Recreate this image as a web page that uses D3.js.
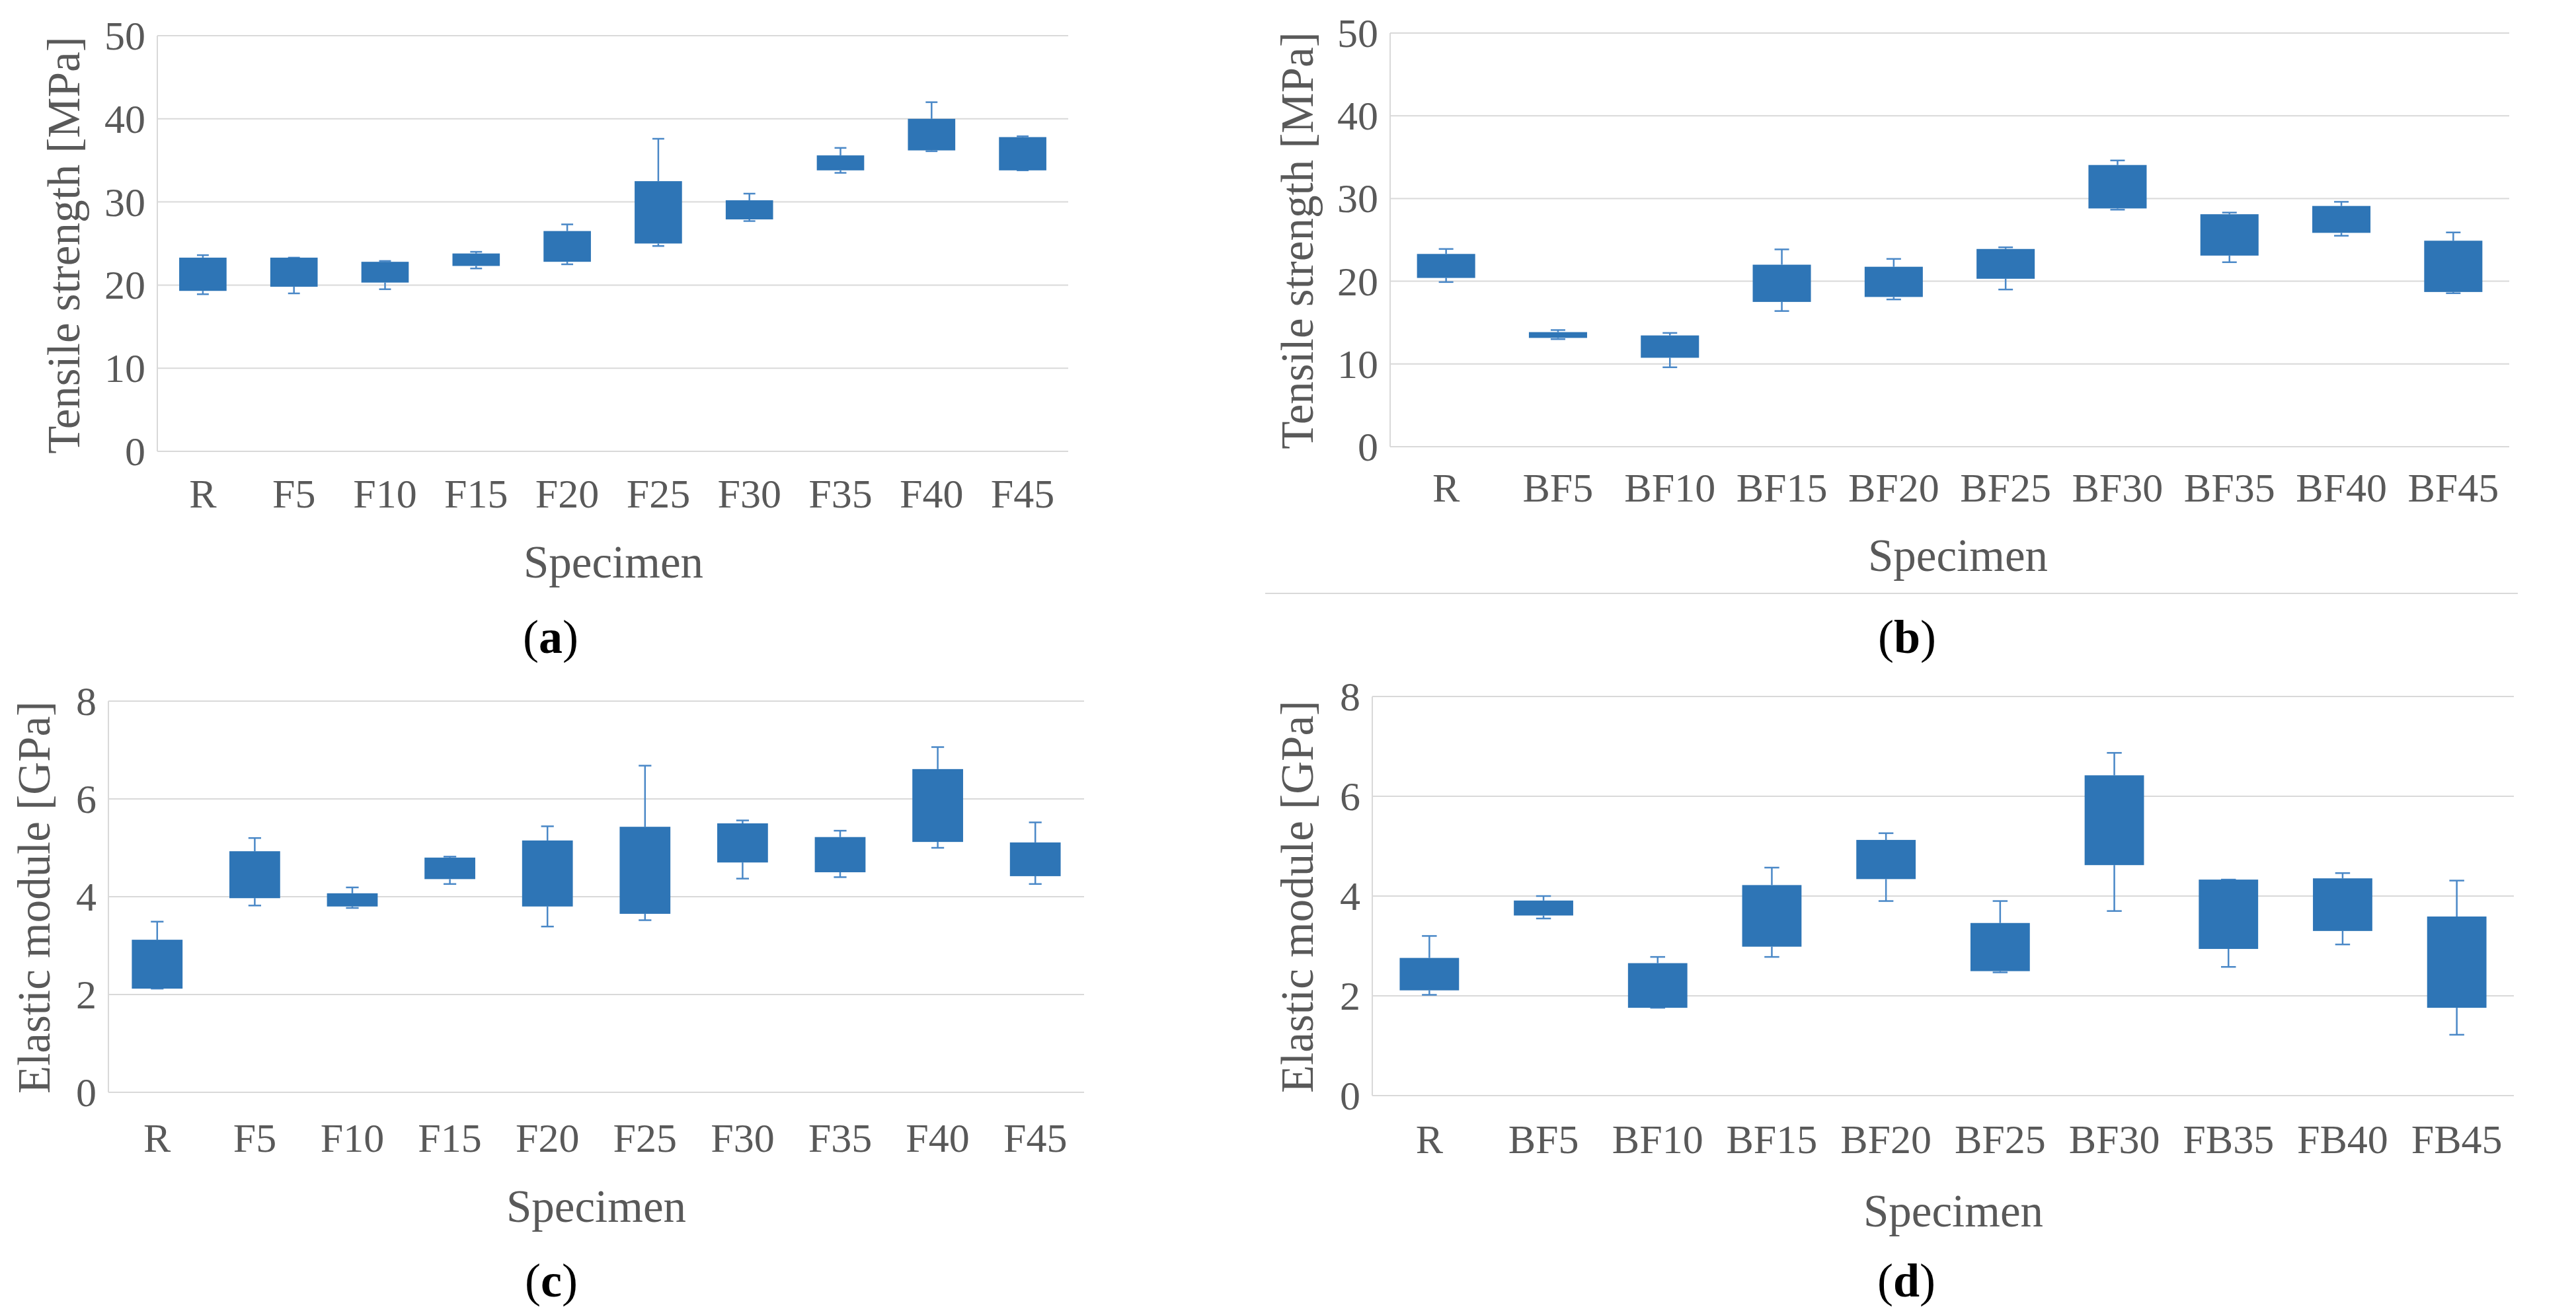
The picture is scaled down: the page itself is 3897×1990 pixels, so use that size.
<!DOCTYPE html>
<html>
<head>
<meta charset="utf-8">
<title>Box plots</title>
<script src="https://d3js.org/d3.v7.min.js"></script>
<style>
  body { margin: 0; background: #fff; }
  text { font-family: "Liberation Serif", serif; fill: #595959; }
</style>
</head>
<body>
<svg id="fig" width="3897" height="1990"></svg>
<script>
// categories
const catsF  = ["R", "F5", "F10", "F15", "F20", "F25", "F30", "F35", "F40", "F45"];
const catsBF = ["R", "BF5", "BF10", "BF15", "BF20", "BF25", "BF30", "BF35", "BF40", "BF45"];
const catsBFd = ["R", "BF5", "BF10", "BF15", "BF20", "BF25", "BF30", "FB35", "FB40", "FB45"];

// (a) tensile strength, F series [MPa]
const tsF_min = [18.9, 19.0, 19.5, 22.0, 22.5, 24.7, 27.7, 33.5, 36.1, 33.8];
const tsF_q1  = [19.3, 19.8, 20.3, 22.3, 22.8, 25.0, 27.9, 33.8, 36.2, 33.8];
const tsF_q3  = [23.3, 23.3, 22.8, 23.8, 26.5, 32.5, 30.2, 35.6, 40.0, 37.8];
const tsF_max = [23.6, 23.3, 22.9, 24.0, 27.3, 37.6, 31.0, 36.5, 42.0, 37.9];

// (b) tensile strength, BF series [MPa]
const tsBF_min = [19.9, 13.0, 9.6, 16.4, 17.8, 19.0, 28.65, 22.3, 25.5, 18.55];
const tsBF_q1  = [20.4, 13.15, 10.75, 17.5, 18.1, 20.3, 28.8, 23.1, 25.85, 18.7];
const tsBF_q3  = [23.3, 13.85, 13.45, 22.0, 21.75, 23.9, 34.05, 28.1, 29.1, 24.9];
const tsBF_max = [23.9, 14.1, 13.75, 23.85, 22.7, 24.1, 34.6, 28.3, 29.6, 25.9];

// (c) elastic module, F series [GPa]
const emF_min = [2.12, 3.82, 3.77, 4.26, 3.39, 3.52, 4.37, 4.40, 5.00, 4.26];
const emF_q1  = [2.12, 3.97, 3.80, 4.36, 3.80, 3.65, 4.70, 4.50, 5.12, 4.42];
const emF_q3  = [3.12, 4.93, 4.07, 4.80, 5.15, 5.43, 5.50, 5.22, 6.61, 5.11];
const emF_max = [3.49, 5.20, 4.19, 4.82, 5.44, 6.68, 5.56, 5.35, 7.06, 5.52];

// (d) elastic module, BF series [GPa]
const emBF_min = [2.02, 3.55, 1.76, 2.78, 3.90, 2.47, 3.70, 2.58, 3.03, 1.22];
const emBF_q1  = [2.11, 3.61, 1.76, 2.985, 4.34, 2.495, 4.62, 2.94, 3.30, 1.76];
const emBF_q3  = [2.76, 3.91, 2.655, 4.22, 5.125, 3.46, 6.42, 4.33, 4.355, 3.59];
const emBF_max = [3.20, 4.00, 2.78, 4.57, 5.26, 3.90, 6.87, 4.33, 4.46, 4.31];

const tsTicks = [0, 10, 20, 30, 40, 50];
const emTicks = [0, 2, 4, 6, 8];

const BOX = "#2E75B6", WHISK = "#4A88C7", GRID = "#D9D9D9";

const panels = [
  { cats: catsF, min: tsF_min, q1: tsF_q1, q3: tsF_q3, max: tsF_max, ticks: tsTicks,
    ytitle: "Tensile strength [MPa]", tag: "a",
    x0: 238, x1: 1616, y0: 54, y1: 683, tickY: 768, titleX: 120, titleY: 371,
    specX: 928, specY: 874, tagX: 833, tagY: 988 },
  { cats: catsBF, min: tsBF_min, q1: tsBF_q1, q3: tsBF_q3, max: tsBF_max, ticks: tsTicks,
    ytitle: "Tensile strength [MPa]", tag: "b",
    x0: 2103, x1: 3796, y0: 50, y1: 676, tickY: 759, titleX: 1986, titleY: 364,
    specX: 2962, specY: 864, tagX: 2885, tagY: 988 },
  { cats: catsF, min: emF_min, q1: emF_q1, q3: emF_q3, max: emF_max, ticks: emTicks,
    ytitle: "Elastic module [GPa]", tag: "c",
    x0: 164, x1: 1640, y0: 1061, y1: 1653, tickY: 1743, titleX: 75, titleY: 1358,
    specX: 902, specY: 1849, tagX: 834, tagY: 1962 },
  { cats: catsBFd, min: emBF_min, q1: emBF_q1, q3: emBF_q3, max: emBF_max, ticks: emTicks,
    ytitle: "Elastic module [GPa]", tag: "d",
    x0: 2076, x1: 3803, y0: 1054, y1: 1658, tickY: 1745, titleX: 1986, titleY: 1357,
    specX: 2955, specY: 1856, tagX: 2884, tagY: 1962 }
];

const svg = d3.select("#fig");
svg.append("rect").attr("width", 3897).attr("height", 1990).attr("fill", "#fff");

panels.forEach(function(p) {
  const g = svg.append("g");
  const x = d3.scaleBand().domain(p.cats).range([p.x0, p.x1]);
  const y = d3.scaleLinear().domain([0, d3.max(p.ticks)]).range([p.y1, p.y0]);
  const bw = x.bandwidth() * 0.52;
  const cw = x.bandwidth() * 0.13;

  // gridlines
  g.selectAll(".grid").data(p.ticks).join("line")
    .attr("x1", p.x0).attr("x2", p.x1)
    .attr("y1", d => y(d)).attr("y2", d => y(d))
    .attr("stroke", GRID).attr("stroke-width", 2);
  g.append("line")
    .attr("x1", p.x0).attr("x2", p.x0).attr("y1", y(d3.max(p.ticks))).attr("y2", y(0))
    .attr("stroke", GRID).attr("stroke-width", 2);

  // y tick labels
  g.selectAll(".ylab").data(p.ticks).join("text")
    .attr("x", p.x0 - 18).attr("y", d => y(d)).attr("dy", "0.34em")
    .attr("text-anchor", "end").style("font-size", "62px")
    .text(d => d);

  const rows = p.cats.map((c, i) => ({ c: c, min: p.min[i], q1: p.q1[i], q3: p.q3[i], max: p.max[i] }));

  // whiskers
  const wg = g.selectAll(".wh").data(rows).join("g")
    .attr("transform", d => "translate(" + (x(d.c) + x.bandwidth() / 2) + ",0)");
  wg.append("line").attr("y1", d => y(d.max)).attr("y2", d => y(d.q3))
    .attr("stroke", WHISK).attr("stroke-width", 2.5);
  wg.append("line").attr("y1", d => y(d.q1)).attr("y2", d => y(d.min))
    .attr("stroke", WHISK).attr("stroke-width", 2.5);
  wg.append("line").attr("x1", -cw / 2).attr("x2", cw / 2)
    .attr("y1", d => y(d.max)).attr("y2", d => y(d.max))
    .attr("stroke", WHISK).attr("stroke-width", 2.5);
  wg.append("line").attr("x1", -cw / 2).attr("x2", cw / 2)
    .attr("y1", d => y(d.min)).attr("y2", d => y(d.min))
    .attr("stroke", WHISK).attr("stroke-width", 2.5);

  // boxes
  g.selectAll(".box").data(rows).join("rect")
    .attr("x", d => x(d.c) + (x.bandwidth() - bw) / 2)
    .attr("width", bw)
    .attr("y", d => y(d.q3))
    .attr("height", d => Math.max(1, y(d.q1) - y(d.q3)))
    .attr("fill", BOX);

  // x tick labels
  g.selectAll(".xlab").data(p.cats).join("text")
    .attr("x", d => x(d) + x.bandwidth() / 2).attr("y", p.tickY)
    .attr("text-anchor", "middle").style("font-size", "62px")
    .text(d => d);

  // axis titles
  g.append("text")
    .attr("transform", "translate(" + p.titleX + "," + p.titleY + ") rotate(-90)")
    .attr("text-anchor", "middle").style("font-size", "69px")
    .text(p.ytitle);
  g.append("text")
    .attr("x", p.specX).attr("y", p.specY)
    .attr("text-anchor", "middle").style("font-size", "69px")
    .text("Specimen");

  // panel tag
  const t = g.append("text")
    .attr("x", p.tagX).attr("y", p.tagY)
    .attr("text-anchor", "middle").style("font-size", "72px")
    .style("fill", "#000");
  t.append("tspan").text("(");
  t.append("tspan").style("font-weight", "bold").text(p.tag);
  t.append("tspan").text(")");
});

// thin separator under panel (b)
svg.append("line")
  .attr("x1", 1914).attr("x2", 3809).attr("y1", 898).attr("y2", 898)
  .attr("stroke", GRID).attr("stroke-width", 2);
</script>
</body>
</html>
